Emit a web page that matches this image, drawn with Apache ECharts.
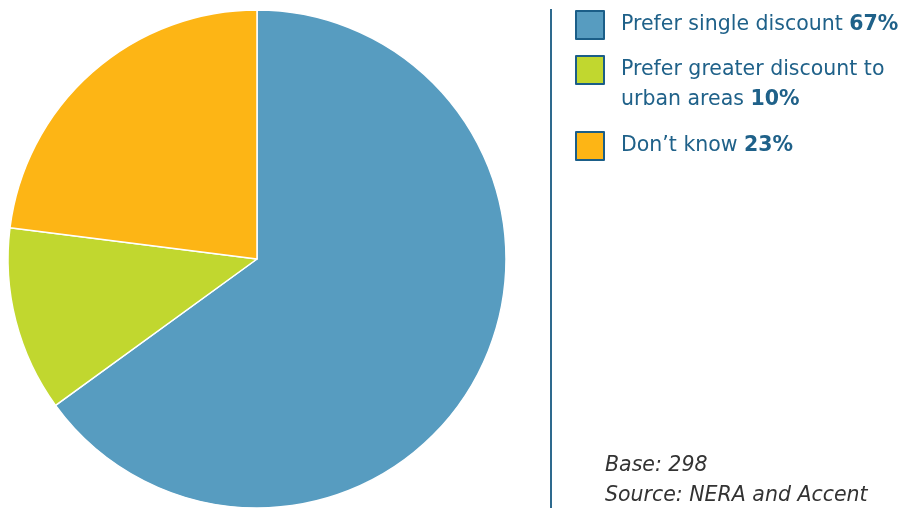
<!DOCTYPE html>
<html><head><meta charset="utf-8">
<script src="https://cdn.jsdelivr.net/npm/echarts@6/dist/echarts.min.js"></script>
<style>html,body{margin:0;padding:0;background:#fff}#c{width:905px;height:511px}</style>
</head><body><div id="c"></div>
<script>
var categories = ['Prefer single discount', 'Prefer greater discount to urban areas', "Don\u2019t know"];
var values = [65, 12, 23];
var labelPercents = ['67%', '10%', '23%'];
var colors = ['#579CC0', '#C1D72F', '#FDB515'];
var notes = ['Base: 298', 'Source: NERA and Accent'];

var chart = echarts.init(document.getElementById('c'), null, {renderer: 'canvas'});
var txtColor = '#1F6189';
var font = 'DejaVu Sans';
var rich = {
  s: {width: 12, lineHeight: 30},
  a: {fontFamily: font, fontSize: 20.5, color: txtColor, lineHeight: 30},
  b: {fontFamily: font, fontSize: 20.5, color: txtColor, fontWeight: 'bold', lineHeight: 30}
};
function mkLegend(i, top, fmt) {
  return {
    data: [categories[i]], left: 575, top: top, orient: 'vertical', padding: 0,
    icon: 'rect', itemWidth: 28, itemHeight: 28, itemGap: 0,
    itemStyle: {borderColor: '#1B5E88', borderWidth: 2},
    selectedMode: false,
    formatter: fmt,
    textStyle: {rich: rich}
  };
}
chart.setOption({
  animation: false,
  color: colors,
  legend: [
    mkLegend(0, 10, function () { return '{s|}{a|Prefer single discount }{b|' + labelPercents[0] + '}'; }),
    mkLegend(1, 34, function () { return '{s| }\n{s|}{a|Prefer greater discount to}\n{s|}{a|urban areas }{b|' + labelPercents[1] + '}'; }),
    mkLegend(2, 131, function () { return '{s|}{a|Don\u2019t know }{b|' + labelPercents[2] + '}'; })
  ],
  series: [{
    type: 'pie', center: [257, 259], radius: 249, startAngle: 90, clockwise: true,
    label: {show: false}, labelLine: {show: false},
    emphasis: {disabled: true}, silent: true,
    itemStyle: {borderColor: '#fff', borderWidth: 1.5},
    data: categories.map(function (c, i) { return {name: c, value: values[i]}; })
  }],
  graphic: [
    {type: 'line', shape: {x1: 551, y1: 9, x2: 551, y2: 508}, style: {stroke: '#2E6A8E', lineWidth: 2}},
    {type: 'text', left: 605, top: 456, style: {text: notes[0], font: 'italic 20.5px "DejaVu Sans"', fill: '#333'}},
    {type: 'text', left: 605, top: 486, style: {text: notes[1], font: 'italic 20.5px "DejaVu Sans"', fill: '#333'}}
  ]
});
</script></body></html>
